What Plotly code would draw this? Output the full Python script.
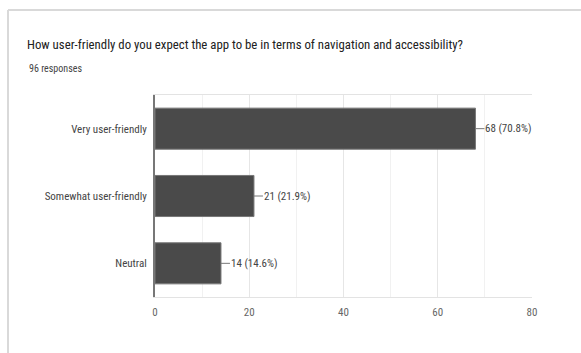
import plotly.graph_objects as go

categories = ["Very user-friendly", "Somewhat user-friendly", "Neutral"]
counts = [68, 21, 14]
percents = ["70.8%", "21.9%", "14.6%"]
x_ticks = [0, 20, 40, 60, 80]
title_text = "How user-friendly do you expect the app to be in terms of navigation and accessibility?"
subtitle_text = "96 responses"

W, H = 581, 353
ML, MR, MT, MB = 155, 49, 95, 56
PW, PH = W - ML - MR, H - MT - MB

def px(x):
    return (x - ML) / PW

def py(y):
    return (H - MB - y) / PH

FONT = "Liberation Sans Narrow, Arial Narrow, Roboto Condensed, Liberation Sans, Arial, sans-serif"

fig = go.Figure()
fig.add_trace(go.Bar(
    x=counts, y=categories, orientation="h",
    marker=dict(color="#4a4a4a", line=dict(color="#777777", width=1)),
    hoverinfo="skip",
))

annotations = []
for c, v, p in zip(categories, counts, percents):
    annotations.append(dict(
        x=v, y=c, xref="x", yref="y", text=f"{v} ({p})",
        showarrow=True, arrowhead=0, arrowwidth=1, arrowcolor="#777777",
        ax=9, ay=0, xanchor="left", yanchor="middle",
        font=dict(family=FONT, size=11, color="#444444"), borderpad=0,
    ))
annotations.append(dict(
    x=px(27), y=py(68), xref="paper", yref="paper", text=subtitle_text,
    showarrow=False, xanchor="left", yanchor="middle",
    font=dict(family=FONT, size=10, color="#444444"),
))

shapes = [
    dict(type="line", xref="paper", yref="paper", x0=px(8), x1=px(585), y0=py(10), y1=py(10),
         line=dict(color="#d9d9d9", width=2)),
    dict(type="line", xref="paper", yref="paper", x0=px(8), x1=px(8), y0=py(10), y1=py(360),
         line=dict(color="#d9d9d9", width=2)),
]

fig.update_layout(
    width=W, height=H,
    margin=dict(l=ML, r=MR, t=MT, b=MB),
    paper_bgcolor="white", plot_bgcolor="white",
    showlegend=False,
    bargap=0.39,
    title=dict(text=title_text, xref="container", yref="container",
               x=27 / W, y=1 - 45 / H, xanchor="left", yanchor="middle",
               font=dict(family=FONT, size=12.8, color="#212121")),
    annotations=annotations,
    shapes=shapes,
    xaxis=dict(range=[0, 80], tickvals=x_ticks, showgrid=True, gridcolor="#e6e6e6", gridwidth=1,
               minor=dict(dtick=10, showgrid=True, gridcolor="#f1f1f1", gridwidth=1),
               zeroline=False, showline=True, linecolor="#e3e3e3", linewidth=1, mirror=True,
               ticks="", tickfont=dict(family=FONT, size=11, color="#666666"),
               ticklabelstandoff=5, fixedrange=True),
    yaxis=dict(categoryorder="array", categoryarray=categories, autorange="reversed",
               showgrid=False, zeroline=False, showline=True, linecolor="#777777", linewidth=2,
               ticks="", tickfont=dict(family=FONT, size=11, color="#444444"),
               ticklabelstandoff=4, fixedrange=True),
)

fig.write_html("out.html")
